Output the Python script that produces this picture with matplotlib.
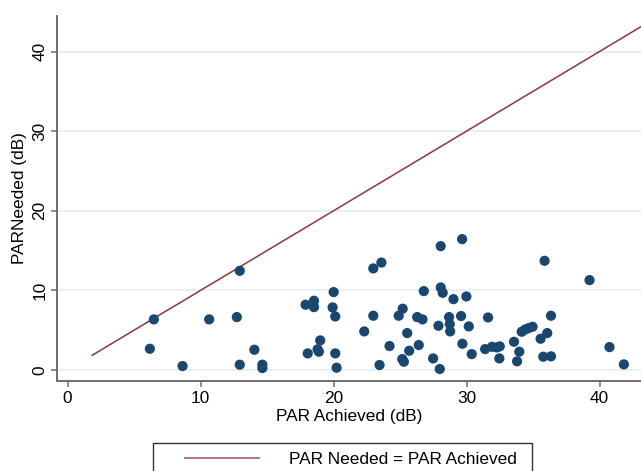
import matplotlib
matplotlib.use("Agg")
import matplotlib.pyplot as plt
from matplotlib.patches import Rectangle
from matplotlib.lines import Line2D

plt.rcParams['font.family'] = ['Liberation Sans', 'DejaVu Sans']

# PAR achieved vs PAR needed (dB)
par_achieved = [12.95, 6.49, 10.65, 12.73, 6.19, 14.05, 8.65, 12.95, 14.65, 14.65,
                22.99, 20.01, 17.9, 18.53, 18.53, 19.93, 20.13, 22.99, 22.31, 19.0,
                18.06, 18.8, 18.9, 20.13, 20.23, 23.46,
                23.6, 28.06, 29.67, 26.79, 28.06, 28.21, 29.02, 29.99,
                24.9, 25.2, 26.29, 26.69, 27.89, 28.69, 28.74, 28.77, 29.59, 30.17,
                31.62, 25.54, 24.21, 26.41, 25.69, 29.69, 30.39, 25.17, 25.29,
                27.49, 27.99,
                35.87, 39.25, 36.35, 34.15, 34.42, 34.67, 34.97, 36.07, 35.57, 33.57,
                31.4, 31.92, 32.27, 32.5, 33.97, 32.47, 33.8, 35.77, 36.35, 40.75, 41.83]
par_needed = [12.46, 6.36, 6.36, 6.65, 2.67, 2.55, 0.5, 0.67, 0.67, 0.25,
              12.76, 9.79, 8.2, 8.7, 7.9, 7.86, 6.73, 6.82, 4.85, 3.72,
              2.09, 2.6, 2.3, 2.09, 0.29, 0.63,
              13.5, 15.56, 16.44, 9.91, 10.37, 9.7, 8.9, 9.24,
              6.82, 7.7, 6.65, 6.36, 5.56, 6.65, 5.77, 4.85, 6.78, 5.48,
              6.6, 4.64, 3.01, 3.14, 2.42, 3.3, 2.0, 1.38, 1.04,
              1.46, 0.13,
              13.72, 11.29, 6.82, 4.81, 5.1, 5.27, 5.43, 4.64, 3.93, 3.55,
              2.63, 2.92, 2.84, 2.97, 2.3, 1.46, 1.09, 1.67, 1.72, 2.88, 0.71]

ref_x = [1.86, 43.6]

navy = '#1a476f'
maroon = '#90353b'
axis_gray = '#6e6e6e'
fs = 12.4

fig = plt.figure(figsize=(6.41, 4.71), dpi=100)
ax = fig.add_axes([57.3 / 641, 1 - 380.7 / 471, 1 - 57.3 / 641, (380.7 - 15.7) / 471])

ax.plot(ref_x, ref_x, color=maroon, lw=1.1, zorder=2)
ax.scatter(par_achieved, par_needed, s=54, color=navy, edgecolors='none', zorder=3)

ax.set_xlim(-0.77, 43.12)
ax.set_ylim(-1.34, 44.5)
ax.set_xticks([0, 10, 20, 30, 40])
ax.set_yticks([0, 10, 20, 30, 40])
ax.grid(axis='y', color='#e6eef0', lw=1.3, zorder=0)
ax.set_axisbelow(True)

for s in ['top', 'right']:
    ax.spines[s].set_visible(False)
for s in ['left', 'bottom']:
    ax.spines[s].set_color(axis_gray)
    ax.spines[s].set_linewidth(1.4)

ax.tick_params(axis='both', colors=axis_gray, length=4, width=1.1, labelsize=fs,
               labelcolor='black')
ax.tick_params(axis='y', pad=3)
plt.setp(ax.get_yticklabels(), rotation=90, va='center')

ax.set_xlabel('PAR Achieved (dB)', fontsize=fs, labelpad=2)
ax.set_ylabel('PARNeeded (dB)', fontsize=fs, labelpad=4)

# legend box (runs off the bottom of the image)
fig.patches.append(Rectangle((153 / 641, 1 - 482 / 471), (532 - 153) / 641, (482 - 443) / 471,
                             transform=fig.transFigure, facecolor='white',
                             edgecolor='#333333', lw=1.0))
handle = Line2D([], [], color=maroon, lw=1.3, alpha=0.75)
fig.legend([handle], ['PAR Needed = PAR Achieved'], loc='center left',
           bbox_to_anchor=(176 / 641, 1 - 459 / 471), bbox_transform=fig.transFigure,
           frameon=False, borderpad=0, handlelength=4.3, handletextpad=1.75,
           fontsize=fs)

fig.savefig('out.png', dpi=100)
